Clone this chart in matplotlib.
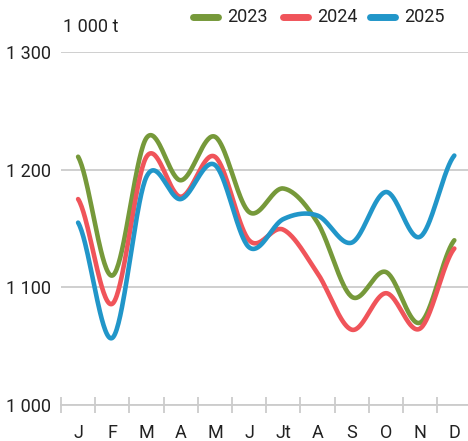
import numpy as np
import matplotlib
matplotlib.use("Agg")
import matplotlib.pyplot as plt

months = ["J", "F", "M", "A", "M", "J", "Jt", "A", "S", "O", "N", "D"]
years = ["2023", "2024", "2025"]
v2023 = [1211, 1110, 1227, 1191, 1228, 1164, 1184, 1155, 1092, 1113, 1070, 1140]
v2024 = [1175, 1086, 1211, 1177, 1211, 1140, 1149, 1112, 1064, 1095, 1065, 1133]
v2025 = [1155, 1057, 1194, 1175, 1204, 1134, 1158, 1161, 1138, 1181, 1143, 1212]
colors = ["#76993a", "#f0545a", "#2196c9"]
yticks = [1000, 1100, 1200, 1300]
ytick_labels = ["1 000", "1 100", "1 200", "1 300"]


def catmull_rom(x, y, n=40):
    x = np.asarray(x, float)
    y = np.asarray(y, float)
    px = np.concatenate([[2 * x[0] - x[1]], x, [2 * x[-1] - x[-2]]])
    py = np.concatenate([[y[0]], y, [y[-1]]])
    xs, ys = [], []
    t = np.linspace(0, 1, n)
    for i in range(1, len(px) - 2):
        x0, x1, x2, x3 = px[i - 1:i + 3]
        y0, y1, y2, y3 = py[i - 1:i + 3]
        for arr, a0, a1, a2, a3 in ((xs, x0, x1, x2, x3), (ys, y0, y1, y2, y3)):
            arr.append(0.5 * ((2 * a1) + (-a0 + a2) * t
                              + (2 * a0 - 5 * a1 + 4 * a2 - a3) * t ** 2
                              + (-a0 + 3 * a1 - 3 * a2 + a3) * t ** 3))
    return np.concatenate(xs), np.concatenate(ys)


plt.rcParams["font.family"] = ["Roboto", "DejaVu Sans"]
text_color = "#222222"
grid_color = "#cccccc"

fig = plt.figure(figsize=(4.68, 4.41), dpi=100)
ax = fig.add_axes([61 / 468, 1 - 405 / 441, 1 - 61 / 468, (405 - 52) / 441])

xs = np.arange(len(months))
for vals, col in zip([v2023, v2024, v2025], colors):
    sx, sy = catmull_rom(xs, vals)
    ax.plot(sx, sy, color=col, lw=3.3, solid_capstyle="round", clip_on=False, zorder=3)

ax.set_xlim(-0.5, 11.4)
ax.set_ylim(1000, 1300)

for s in ["top", "right", "left"]:
    ax.spines[s].set_visible(False)
ax.spines["bottom"].set_color(grid_color)
ax.spines["bottom"].set_linewidth(1.3)

ax.set_yticks(yticks)
ax.set_yticklabels(ytick_labels)
ax.tick_params(axis="y", length=0, pad=7, labelsize=13, labelcolor=text_color)
ax.yaxis.grid(True, color=grid_color, lw=1.3)
ax.set_axisbelow(True)

ax.set_xticks(np.arange(-0.5, 11.5, 1.0))
ax.set_xticklabels([])
ax.tick_params(axis="x", which="major", direction="inout", length=12,
               width=1.3, color=grid_color)
ax.set_xticks(xs, minor=True)
ax.set_xticklabels(months, minor=True)
ax.tick_params(axis="x", which="minor", length=0, pad=13.5, labelsize=13,
               labelcolor=text_color)

fig.text(63 / 468, 1 - 27 / 441, "1 000 t", fontsize=13, color=text_color,
         va="center", ha="left")

# legend
leg_x = [193, 283, 370]
for lx, col, yr in zip(leg_x, colors, years):
    fig.add_artist(plt.Line2D([lx / 468, (lx + 25) / 468], [1 - 17 / 441] * 2,
                              color=col, lw=5, solid_capstyle="round"))
    fig.text((lx + 34) / 468, 1 - 17 / 441, yr, fontsize=13, color=text_color,
             va="center", ha="left")

fig.savefig("out.png", dpi=100)
